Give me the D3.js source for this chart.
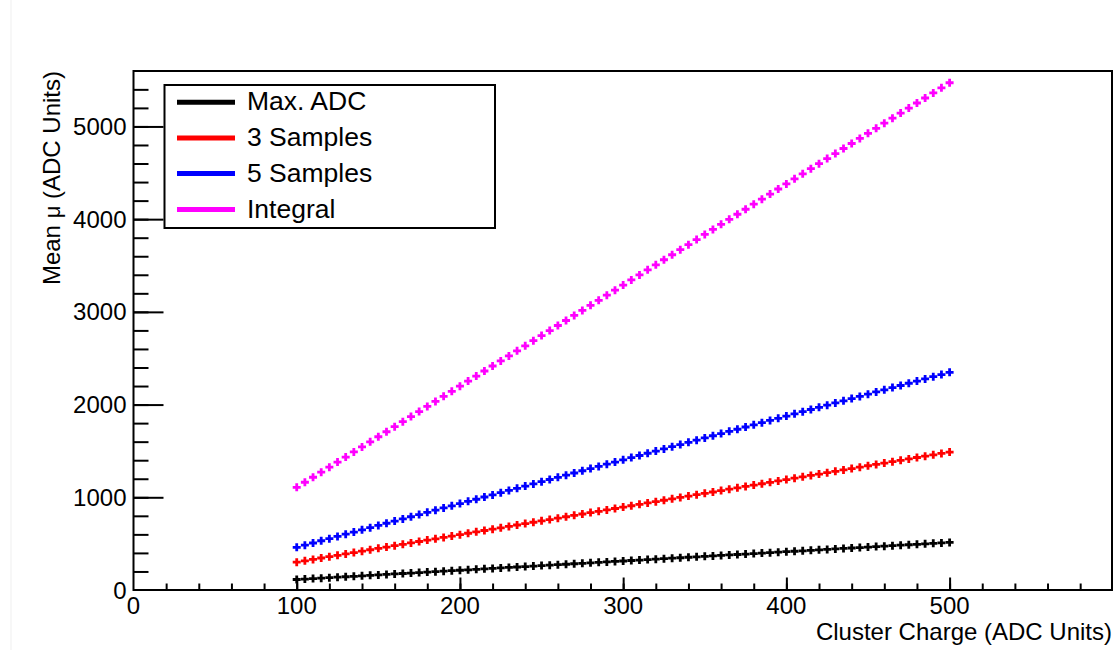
<!DOCTYPE html>
<html>
<head>
<meta charset="utf-8">
<script src="https://cdn.jsdelivr.net/npm/d3@7"></script>
<style>
  html, body { margin: 0; padding: 0; background: #fff; }
  svg { display: block; font-family: "Liberation Sans", Arial, Helvetica, sans-serif; }
</style>
</head>
<body>
<svg id="chart" width="1118" height="650"></svg>
<script>
// Cluster charge points (ADC units)
const charge = [100,105,110,115,120,125,130,135,140,145,150,155,160,165,170,175,180,185,190,195,
  200,205,210,215,220,225,230,235,240,245,250,255,260,265,270,275,280,285,290,295,
  300,305,310,315,320,325,330,335,340,345,350,355,360,365,370,375,380,385,390,395,
  400,405,410,415,420,425,430,435,440,445,450,455,460,465,470,475,480,485,490,495,500];

// Mean response for each reconstruction method
const maxADC = [113,118,123,128,133,138,143,148,153,158,163,168,173,178,183,188,193,198,203,208,
  213,218,223,228,233,238,243,248,253,258,263,268,273,278,283,288,293,298,303,308,
  313,318,323,328,333,338,343,348,353,358,363,368,373,378,383,388,393,398,403,408,
  413,418,423,428,433,438,443,448,453,458,463,468,473,478,483,488,493,498,503,508,513];

const samples3 = [300,315,330,345,359,374,389,404,419,434,449,463,478,493,508,523,538,552,567,582,
  597,612,627,642,656,671,686,701,716,731,746,760,775,790,805,820,835,849,864,879,
  894,909,924,939,953,968,983,998,1013,1028,1043,1057,1072,1087,1102,1117,1132,1146,1161,1176,
  1191,1206,1221,1236,1250,1265,1280,1295,1310,1325,1340,1354,1369,1384,1399,1414,1429,1443,1458,1473,1488];

const samples5 = [460,484,507,531,554,578,602,625,649,672,696,720,743,767,790,814,838,861,885,908,
  932,956,979,1003,1026,1050,1074,1097,1121,1144,1168,1192,1215,1239,1262,1286,1310,1333,1357,1380,
  1404,1428,1451,1475,1498,1522,1546,1569,1593,1616,1640,1664,1687,1711,1734,1758,1782,1805,1829,1852,
  1876,1900,1923,1947,1970,1994,2018,2041,2065,2088,2112,2136,2159,2183,2206,2230,2254,2277,2301,2324,2348];

const integral = [1107,1162,1216,1271,1325,1380,1434,1489,1543,1598,1653,1707,1762,1816,1871,1925,1980,2034,2089,2143,
  2198,2253,2307,2362,2416,2471,2525,2580,2634,2689,2744,2798,2853,2907,2962,3016,3071,3125,3180,3234,
  3289,3344,3398,3453,3507,3562,3616,3671,3725,3780,3835,3889,3944,3998,4053,4107,4162,4216,4271,4325,
  4380,4435,4489,4544,4598,4653,4707,4762,4816,4871,4926,4980,5035,5089,5144,5198,5253,5307,5362,5416,5471];

const seriesNames = ["Max. ADC", "3 Samples", "5 Samples", "Integral"];
const seriesColors = ["#000000", "#ff0000", "#0000ff", "#ff00ff"];
const seriesValues = [maxADC, samples3, samples5, integral];

const xMajorTicks = [0, 100, 200, 300, 400, 500];
const yMajorTicks = [0, 1000, 2000, 3000, 4000, 5000];

const svg = d3.select("#chart");
const W = 1118, H = 650;
const frameL = 133.5, frameR = 1112, frameT = 71, frameB = 590;

svg.append("rect").attr("width", W).attr("height", H).attr("fill", "#fff");
// faint pad edge
svg.append("line").attr("x1", 11).attr("x2", 11).attr("y1", 0).attr("y2", H)
  .attr("stroke", "#efefef").attr("stroke-width", 1);

const x = d3.scaleLinear().domain([0, 599.5]).range([frameL, frameR]);
const y = d3.scaleLinear().domain([0, 5598]).range([frameB, frameT]);

// frame
svg.append("rect")
  .attr("x", frameL).attr("y", frameT)
  .attr("width", frameR - frameL).attr("height", frameB - frameT)
  .attr("fill", "none").attr("stroke", "#000").attr("stroke-width", 2);

// X axis ticks (major 100, minor 20)
const xAxisG = svg.append("g").attr("transform", `translate(0,${frameB})`);
xAxisG.call(d3.axisBottom(x).tickValues(d3.range(20, 599, 20)).tickSize(-6.5).tickFormat(""))
  .call(g => g.select(".domain").remove())
  .call(g => g.selectAll("line").attr("stroke", "#000").attr("stroke-width", 2));
xAxisG.append("g")
  .call(d3.axisBottom(x).tickValues(xMajorTicks.filter(d => d > 0)).tickSize(-12.5).tickFormat(""))
  .call(g => g.select(".domain").remove())
  .call(g => g.selectAll("line").attr("stroke", "#000").attr("stroke-width", 2));
svg.append("g").selectAll("text").data(xMajorTicks).join("text")
  .attr("x", d => x(d)).attr("y", 614)
  .attr("text-anchor", "middle").attr("font-size", 24).attr("fill", "#000")
  .text(d => d);

// Y axis ticks (major 1000, minor 200)
const yAxisG = svg.append("g").attr("transform", `translate(${frameL},0)`);
yAxisG.call(d3.axisLeft(y).tickValues(d3.range(200, 5500, 200)).tickSize(-15).tickFormat(""))
  .call(g => g.select(".domain").remove())
  .call(g => g.selectAll("line").attr("stroke", "#000").attr("stroke-width", 2));
yAxisG.append("g")
  .call(d3.axisLeft(y).tickValues(yMajorTicks.filter(d => d > 0)).tickSize(-30).tickFormat(""))
  .call(g => g.select(".domain").remove())
  .call(g => g.selectAll("line").attr("stroke", "#000").attr("stroke-width", 2));
svg.append("g").selectAll("text").data(yMajorTicks).join("text")
  .attr("x", 126.5).attr("y", d => y(d) + 8.5)
  .attr("text-anchor", "end").attr("font-size", 24).attr("fill", "#000")
  .text(d => d);

// axis titles
svg.append("text")
  .attr("x", frameR).attr("y", 640)
  .attr("text-anchor", "end").attr("font-size", 24).attr("fill", "#000")
  .text("Cluster Charge (ADC Units)");
const yTitle = svg.append("text")
  .attr("transform", `translate(60,${frameT}) rotate(-90)`)
  .attr("text-anchor", "end").attr("font-size", 24).attr("fill", "#000");
yTitle.append("tspan").text("Mean ");
yTitle.append("tspan").attr("font-size", 22).text("\u03bc");
yTitle.append("tspan").text("  (ADC Units)");

// data markers (plus signs)
const plus = "M-4,0H4M0,-4V4";
seriesValues.forEach((vals, si) => {
  svg.append("g").selectAll("path").data(vals).join("path")
    .attr("transform", (v, i) => `translate(${x(charge[i])},${y(v)})`)
    .attr("d", plus)
    .attr("stroke", seriesColors[si]).attr("stroke-width", 2.8)
    .attr("fill", "none");
});

// legend
const leg = svg.append("g");
leg.append("rect").attr("x", 164.5).attr("y", 85).attr("width", 330.5).attr("height", 143)
  .attr("fill", "#fff").attr("stroke", "#000").attr("stroke-width", 2);
const rowY = [102.3, 138, 173.6, 209.6];
seriesNames.forEach((name, i) => {
  leg.append("line").attr("x1", 177).attr("x2", 235)
    .attr("y1", rowY[i]).attr("y2", rowY[i])
    .attr("stroke", seriesColors[i]).attr("stroke-width", 5);
  leg.append("text").attr("x", 247).attr("y", rowY[i] + 8)
    .attr("font-size", 26.5).attr("fill", "#000").text(name);
});
</script>
</body>
</html>
